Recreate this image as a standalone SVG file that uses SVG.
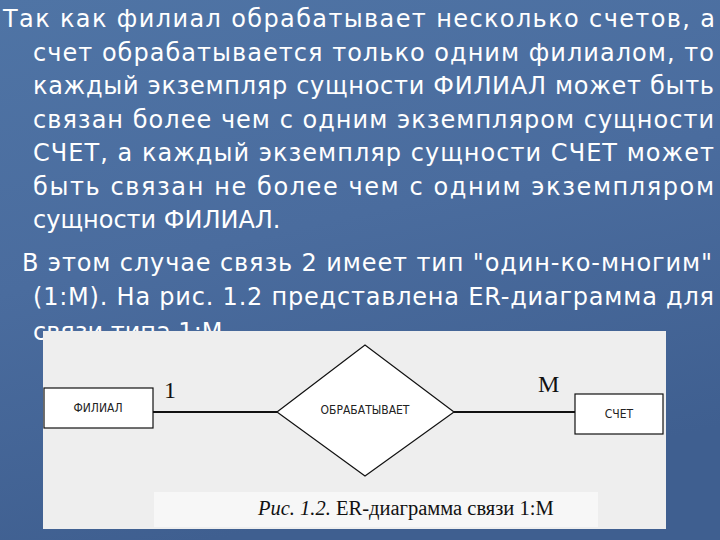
<svg xmlns="http://www.w3.org/2000/svg" width="720" height="540" viewBox="0 0 720 540">
<defs>
<linearGradient id="bg" x1="0" y1="0" x2="0.3" y2="1">
<stop offset="0" stop-color="#4f74a5"/>
<stop offset="0.5" stop-color="#4a6c9e"/>
<stop offset="1" stop-color="#3f5f90"/>
</linearGradient>
<style>
.t{font-family:"DejaVu Sans",Verdana,sans-serif;font-size:24px;fill:#ffffff}
.ent{fill:#ffffff;stroke:#111;stroke-width:1.2}
.lbl{font-family:"DejaVu Sans Condensed","DejaVu Sans",sans-serif;font-size:12px;fill:#222;text-anchor:middle}
.card{font-family:"Liberation Serif","Times New Roman",serif;font-size:24px;fill:#111}
.cap{font-family:"Liberation Serif","Times New Roman",serif;font-size:20.5px;fill:#111}
.ln{stroke:#111;stroke-width:2.2;fill:none}
</style>
</defs>
<rect width="720" height="540" fill="url(#bg)"/>
<g id="text">
<text class="t" x="3" y="27" textLength="712" lengthAdjust="spacing">Так как филиал обрабатывает несколько счетов, а</text>
<text class="t" x="33" y="60.5" textLength="681" lengthAdjust="spacing">счет обрабатывается только одним филиалом, то</text>
<text class="t" x="33" y="94" textLength="681" lengthAdjust="spacing">каждый экземпляр сущности ФИЛИАЛ может быть</text>
<text class="t" x="33" y="127.5" textLength="681" lengthAdjust="spacing">связан более чем с одним экземпляром сущности</text>
<text class="t" x="33" y="161" textLength="681" lengthAdjust="spacing">СЧЕТ, а каждый экземпляр сущности СЧЕТ может</text>
<text class="t" x="33" y="194.5" textLength="681" lengthAdjust="spacing">быть связан не более чем с одним экземпляром</text>
<text class="t" x="33" y="228">сущности ФИЛИАЛ.</text>
<text class="t" x="22" y="271" textLength="690" lengthAdjust="spacing">В этом случае связь 2 имеет тип "один-ко-многим"</text>
<text class="t" x="33" y="304.5" textLength="681" lengthAdjust="spacing">(1:М). На рис. 1.2 представлена ER-диаграмма для</text>
<text class="t" x="33" y="340">связи типа 1:М.</text>
</g>
<rect id="figure" x="43" y="331" width="623" height="198" fill="#eeeeee"/>
<rect x="154" y="492" width="444" height="35" fill="#f7f7f7"/>
<g id="connectors">
<line class="ln" x1="153" y1="412" x2="277" y2="412"/>
<line class="ln" x1="454" y1="412" x2="575" y2="412"/>
</g>
<g id="filial">
<rect class="ent" x="44" y="388" width="109" height="40"/>
<text class="lbl" x="98" y="412">ФИЛИАЛ</text>
</g>
<g id="obrabatyvaet">
<polygon points="277,412 365,345 454,412 365,476" fill="#ffffff" stroke="#111" stroke-width="1.2"/>
<text class="lbl" x="365" y="414">ОБРАБАТЫВАЕТ</text>
</g>
<g id="schet">
<rect class="ent" x="575" y="394" width="88" height="40"/>
<text class="lbl" x="619" y="418">СЧЕТ</text>
</g>
<text class="card" x="164" y="398">1</text>
<text class="card" x="538" y="392">М</text>
<text class="cap" x="258" y="515"><tspan font-style="italic">Рис. 1.2.</tspan> ER-диаграмма связи 1:М</text>
</svg>
